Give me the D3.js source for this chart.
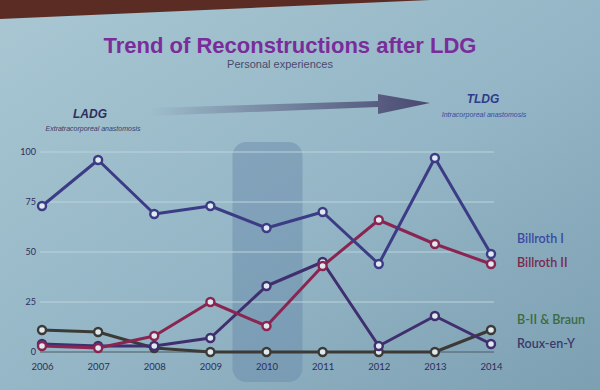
<!DOCTYPE html>
<html>
<head>
<meta charset="utf-8">
<script src="https://cdn.jsdelivr.net/npm/d3@7"></script>
<style>
  body { margin: 0; background: #8fb1c1; }
  svg { display: block; }
</style>
</head>
<body>
<svg id="chart" width="600" height="390"></svg>
<script>
// data
var years = ['2006','2007','2008','2009','2010','2011','2012','2013','2014'];
var billroth1 = [73, 96, 69, 73, 62, 70, 44, 97, 49];
var billroth2 = [3, 2, 8, 25, 13, 43, 66, 54, 44];
var rouxenY   = [4, 3, 3, 7, 33, 45, 3, 18, 4];
var braun     = [11, 10, 2, 0, 0, 0, 0, 0, 11];
var yTicks = [0, 25, 50, 75, 100];

var svg = d3.select('#chart');

// background of the projected slide
var defs = svg.append('defs');
var bg = defs.append('linearGradient').attr('id', 'bg')
  .attr('x1', '0').attr('y1', '0').attr('x2', '1').attr('y2', '1');
bg.append('stop').attr('offset', '0%').attr('stop-color', '#a9c7d3');
bg.append('stop').attr('offset', '55%').attr('stop-color', '#93b5c5');
bg.append('stop').attr('offset', '100%').attr('stop-color', '#7c9fb2');

var arrowGrad = defs.append('linearGradient').attr('id', 'arrowGrad')
  .attr('x1', '0').attr('y1', '0').attr('x2', '1').attr('y2', '0');
arrowGrad.append('stop').attr('offset', '0%').attr('stop-color', '#4a4870').attr('stop-opacity', 0);
arrowGrad.append('stop').attr('offset', '100%').attr('stop-color', '#4a4870').attr('stop-opacity', 1);

svg.append('rect').attr('width', 600).attr('height', 390).attr('fill', 'url(#bg)');

// dark band at the top of the photo
svg.append('path')
  .attr('d', 'M0,0 L430,0 L0,19 Z')
  .attr('fill', '#5b2c24');

// titles
svg.append('text')
  .attr('x', 290).attr('y', 53)
  .attr('text-anchor', 'middle')
  .style('font-family', 'Liberation Sans, Arial, sans-serif')
  .style('font-weight', 'bold')
  .style('font-size', '22px')
  .attr('fill', '#7a2d9a')
  .text('Trend of Reconstructions after LDG');

svg.append('text')
  .attr('x', 280).attr('y', 68)
  .attr('text-anchor', 'middle')
  .style('font-family', 'Liberation Sans, Arial, sans-serif')
  .style('font-size', '11px')
  .attr('fill', '#4a4a6e')
  .text('Personal experiences');

// arrow from LADG to TLDG
svg.append('path')
  .attr('d', 'M150,108 L378,101 L378,94 L430,103 L378,114 L378,107 L150,116 Z')
  .attr('fill', 'url(#arrowGrad)');

svg.append('text')
  .attr('x', 90).attr('y', 118)
  .attr('text-anchor', 'middle')
  .style('font-family', 'Liberation Sans, Arial, sans-serif')
  .style('font-weight', 'bold').style('font-style', 'italic')
  .style('font-size', '12px')
  .attr('fill', '#2e2d5c')
  .text('LADG');
svg.append('text')
  .attr('x', 93).attr('y', 131)
  .attr('text-anchor', 'middle')
  .style('font-family', 'Liberation Sans, Arial, sans-serif')
  .style('font-style', 'italic')
  .style('font-size', '7px')
  .attr('fill', '#3a3a66')
  .text('Extratracorporeal anastomosis');

svg.append('text')
  .attr('x', 483).attr('y', 103)
  .attr('text-anchor', 'middle')
  .style('font-family', 'Liberation Sans, Arial, sans-serif')
  .style('font-weight', 'bold').style('font-style', 'italic')
  .style('font-size', '12px')
  .attr('fill', '#2e3a8a')
  .text('TLDG');
svg.append('text')
  .attr('x', 484).attr('y', 117)
  .attr('text-anchor', 'middle')
  .style('font-family', 'Liberation Sans, Arial, sans-serif')
  .style('font-style', 'italic')
  .style('font-size', '7px')
  .attr('fill', '#3a4aa0')
  .text('Intracorporeal anastomosis');

// scales
var x = d3.scalePoint().domain(years).range([42, 491]);
var y = d3.scaleLinear().domain([0, 100]).range([352, 152]);

// highlight band on 2010
svg.append('rect')
  .attr('x', x('2010') - 34).attr('y', 142)
  .attr('width', 70).attr('height', 240)
  .attr('rx', 14)
  .attr('fill', '#6588a8').attr('opacity', 0.45);

// grid
svg.selectAll('.grid')
  .data(yTicks)
  .enter().append('line')
  .attr('class', 'grid')
  .attr('x1', 40).attr('x2', 494)
  .attr('y1', function(d){ return y(d); })
  .attr('y2', function(d){ return y(d); })
  .attr('stroke', function(d){ return d === 0 ? '#4c5a66' : '#bcd3dd'; })
  .attr('stroke-width', 1);

// y axis labels
var yAxis = d3.axisLeft(y).tickValues(yTicks).tickSize(0).tickPadding(4);
var gy = svg.append('g').attr('transform', 'translate(40,0)').call(yAxis);
gy.select('.domain').remove();
gy.selectAll('text')
  .style('font-family', 'Lato, sans-serif')
  .style('font-size', '9px')
  .attr('fill', '#2e2d58');

// x axis labels
var xAxis = d3.axisBottom(x).tickSize(0).tickPadding(6);
var gx = svg.append('g').attr('transform', 'translate(0,357)').call(xAxis);
gx.select('.domain').remove();
gx.selectAll('text')
  .style('font-family', 'Lato, sans-serif')
  .style('font-size', '9.5px')
  .attr('fill', '#2e2d58');

// series
var series = [
  { name: 'B-II & Braun', values: braun,     color: '#3c3a36', label: '#3d6a3e', ly: 324 },
  { name: 'Roux-en-Y',    values: rouxenY,   color: '#3f2f6e', label: '#3a3a6c', ly: 348 },
  { name: 'Billroth II',  values: billroth2, color: '#8a2552', label: '#7a2a4e', ly: 267 },
  { name: 'Billroth I',   values: billroth1, color: '#3c3c86', label: '#3a49a2', ly: 243 }
];

var line = d3.line()
  .x(function(d, i){ return x(years[i]); })
  .y(function(d){ return y(d); });

series.forEach(function(s){
  svg.append('path')
    .datum(s.values)
    .attr('d', line)
    .attr('fill', 'none')
    .attr('stroke', s.color)
    .attr('stroke-width', 3)
    .attr('stroke-linejoin', 'round');

  svg.selectAll(null)
    .data(s.values)
    .enter().append('circle')
    .attr('cx', function(d, i){ return x(years[i]); })
    .attr('cy', function(d){ return y(d); })
    .attr('r', 4)
    .attr('fill', '#dfeaef')
    .attr('stroke', s.color)
    .attr('stroke-width', 2.4);

  svg.append('text')
    .attr('x', 517).attr('y', s.ly)
    .style('font-family', 'Lato, sans-serif')
    .style('font-weight', '600')
    .style('font-size', '12.5px')
    .attr('fill', s.label)
    .text(s.name);
});
</script>
</body>
</html>
